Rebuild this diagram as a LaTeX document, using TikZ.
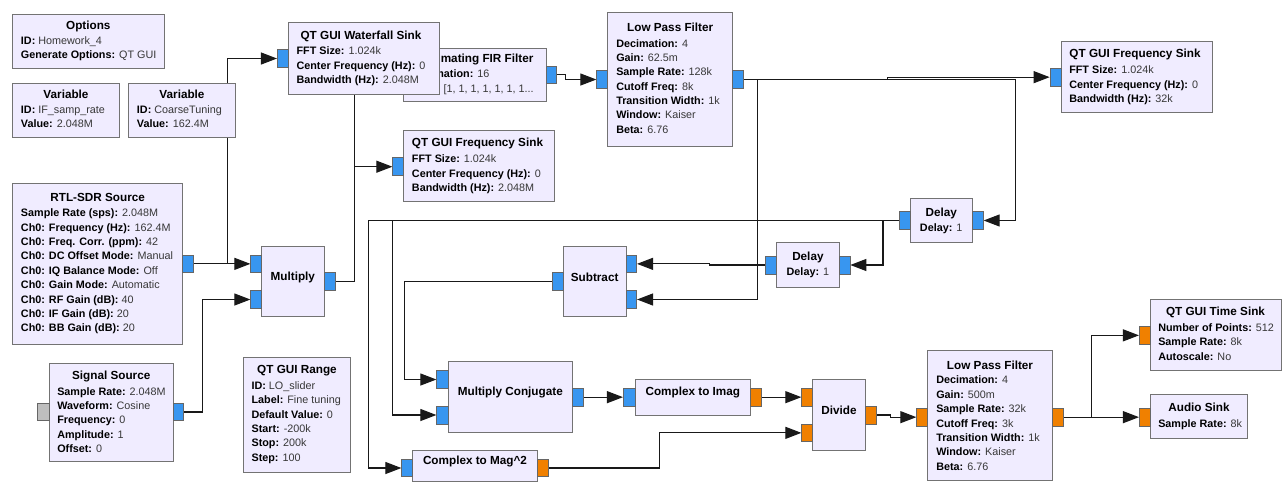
\documentclass[tikz,border=0pt]{standalone}
\usepackage{fontspec}
\setmainfont{Liberation Sans}
\usetikzlibrary{arrows.meta,fit}
\pgfdeclarelayer{bg}
\pgfsetlayers{bg,main}
\definecolor{blkfill}{RGB}{240,236,255}
\definecolor{blkline}{RGB}{115,115,115}
\definecolor{pblue}{RGB}{56,150,240}
\definecolor{porange}{RGB}{240,128,0}
\definecolor{pgrey}{RGB}{190,190,190}
\definecolor{valc}{RGB}{55,55,55}
\newcount\tlc
\newcommand\tfont{\fontsize{8.8}{10.5}\selectfont\bfseries}
\newcommand\blk[5]{\node[blk, fit={(#2,#3) (#4,#5)}] (#1) {};}
\newcommand\blkt[6]{\node[blk, font=\tfont, text height=6.3pt, text depth=0pt, fit={(#2,#3) (#4,#5)}] (#1) {#6};}
\newcommand\prt[6]{\node[port, fill=#6, fit={(#2,#3) (#4,#5)}] (#1) {};}
\newcommand\btitle[2]{\global\advance\tlc by 1 \node[ttl] (t\the\tlc) at (#1) {#2};}
\newcommand\bkv[3]{\global\advance\tlc by 1 \node[kv] (t\the\tlc) at (#1) {\textbf{#2:} \textcolor{valc}{#3}};}
\newcommand\bkvc[3]{\global\advance\tlc by 1 \node[kv, anchor=center] (t\the\tlc) at (#1) {\textbf{#2:} \textcolor{valc}{#3}};}
\tikzset{
  blk/.style={draw=blkline, fill=blkfill, line width=0.75pt, inner sep=0pt},
  port/.style={draw=black!60, line width=0.5pt, inner sep=0pt},
  ttl/.style={font=\tfont, anchor=center, inner sep=0pt, text height=6.3pt, text depth=0pt},
  kv/.style={font=\fontsize{8.1}{10}\selectfont, anchor=west, inner sep=0pt, text height=5.9pt, text depth=0pt},
  wire/.style={draw=black!90, line width=0.8pt, -{Triangle[length=12pt,width=9pt]}}
}
\begin{document}
\begin{tikzpicture}[x=0.75pt, y=-0.75pt]
\path[use as bounding box] (0,0) rectangle (1282,483);

% Options
\blk{opt}{12.7}{14.3}{164}{68.3}
\btitle{88.3,25}{Options}
\bkv{20.7,40.7}{ID}{Homework\_4}
\bkv{20.7,55}{Generate Options}{QT GUI}

% Variables
\blk{var1}{12.7}{83.3}{119.3}{137.3}
\btitle{66,94}{Variable}
\bkv{20.7,110}{ID}{IF\_samp\_rate}
\bkv{20.7,124}{Value}{2.048M}

\blk{var2}{128.7}{83.3}{235.3}{137.3}
\btitle{182,94}{Variable}
\bkv{136.7,110}{ID}{CoarseTuning}
\bkv{136.7,124}{Value}{162.4M}

% RTL-SDR Source
\blk{rtl}{12.7}{183.3}{182.7}{344}
\prt{rtl-o}{182.7}{255}{193}{272.7}{pblue}
\btitle{97.7,197.3}{RTL-SDR Source}
\bkv{20.7,212.7}{Sample Rate (sps)}{2.048M}
\bkv{20.7,227.1}{Ch0: Frequency (Hz)}{162.4M}
\bkv{20.7,241.5}{Ch0: Freq. Corr. (ppm)}{42}
\bkv{20.7,255.9}{Ch0: DC Offset Mode}{Manual}
\bkv{20.7,270.3}{Ch0: IQ Balance Mode}{Off}
\bkv{20.7,284.7}{Ch0: Gain Mode}{Automatic}
\bkv{20.7,299.1}{Ch0: RF Gain (dB)}{40}
\bkv{20.7,313.5}{Ch0: IF Gain (dB)}{20}
\bkv{20.7,327.9}{Ch0: BB Gain (dB)}{20}

% Signal Source
\blk{sig}{49}{363.3}{173.3}{461.7}
\prt{sig-i}{37.3}{403.5}{49}{420.5}{pgrey}
\prt{sig-o}{173.3}{403.5}{183.7}{420.5}{pblue}
\btitle{111.2,375}{Signal Source}
\bkv{57,391.5}{Sample Rate}{2.048M}
\bkv{57,405.7}{Waveform}{Cosine}
\bkv{57,419.9}{Frequency}{0}
\bkv{57,434.1}{Amplitude}{1}
\bkv{57,448.3}{Offset}{0}

% Decimating FIR Filter (behind waterfall)
\blk{fir}{403.3}{48.3}{546}{101.7}
\prt{fir-i}{392.3}{66}{403.3}{83.3}{pblue}
\prt{fir-o}{546}{66}{556.7}{83.3}{pblue}
\btitle{474.7,58.3}{Decimating FIR Filter}
\bkv{411.3,73.7}{Decimation}{16}
\bkv{411.3,89}{Taps}{[1, 1, 1, 1, 1, 1, 1...}

% Waterfall sink
\blk{wf}{288.3}{22.7}{439.3}{94.3}
\prt{wf-i}{277.3}{49.3}{288.3}{67.7}{pblue}
\btitle{361,35}{QT GUI Waterfall Sink}
\bkv{296.3,50.7}{FFT Size}{1.024k}
\bkv{296.3,65.3}{Center Frequency (Hz)}{0}
\bkv{296.3,80}{Bandwidth (Hz)}{2.048M}

% Frequency sink 1
\blk{fs1}{403.7}{130.7}{554.7}{201.7}
\prt{fs1-i}{392.7}{157.7}{403.7}{175.7}{pblue}
\btitle{477.5,142.7}{QT GUI Frequency Sink}
\bkv{411.7,158.7}{FFT Size}{1.024k}
\bkv{411.7,173.3}{Center Frequency (Hz)}{0}
\bkv{411.7,187.7}{Bandwidth (Hz)}{2.048M}

% Low pass filter 1
\blk{lpf1}{607.7}{12.7}{732.7}{146}
\prt{lpf1-i}{596.7}{70.7}{607.7}{88.3}{pblue}
\prt{lpf1-o}{732.7}{70.7}{743.3}{88.3}{pblue}
\btitle{670.2,27.3}{Low Pass Filter}
\bkv{616,43.3}{Decimation}{4}
\bkv{616,57.6}{Gain}{62.5m}
\bkv{616,71.9}{Sample Rate}{128k}
\bkv{616,86.2}{Cutoff Freq}{8k}
\bkv{616,100.5}{Transition Width}{1k}
\bkv{616,114.8}{Window}{Kaiser}
\bkv{616,129.1}{Beta}{6.76}

% Frequency sink 2
\blk{fs2}{1061}{41.7}{1212}{112.7}
\prt{fs2-i}{1050}{68.3}{1061}{86}{pblue}
\btitle{1135,53.3}{QT GUI Frequency Sink}
\bkv{1069,70}{FFT Size}{1.024k}
\bkv{1069,84.3}{Center Frequency (Hz)}{0}
\bkv{1069,98.6}{Bandwidth (Hz)}{32k}

% Multiply
\blkt{mul}{261.7}{246}{324}{316.7}{Multiply}
\prt{mul-i1}{250.7}{255}{261.7}{272.7}{pblue}
\prt{mul-i2}{250.7}{290.7}{261.7}{308.3}{pblue}
\prt{mul-o}{324}{272.7}{335}{290.7}{pblue}

% Subtract
\blkt{sub}{563.3}{246}{626}{316.7}{Subtract}
\prt{sub-o}{552.3}{272.7}{563.3}{290.7}{pblue}
\prt{sub-i1}{626}{255}{636.7}{272.7}{pblue}
\prt{sub-i2}{626}{290.7}{636.7}{308.3}{pblue}

% Delays
\blk{dl1}{910}{198.3}{972.3}{242.3}
\prt{dl1-o}{899}{211.7}{910}{229.3}{pblue}
\prt{dl1-i}{972.3}{211.7}{983.3}{229.3}{pblue}
\btitle{941.2,212.3}{Delay}
\bkvc{941.2,227.7}{Delay}{1}

\blk{dl2}{776.7}{242.7}{839}{287.3}
\prt{dl2-o}{765.7}{256}{776.7}{274}{pblue}
\prt{dl2-i}{839}{256}{850}{274}{pblue}
\btitle{807.9,256.7}{Delay}
\bkvc{807.9,271.7}{Delay}{1}

% QT GUI Range
\blk{rng}{243.3}{357.3}{350.7}{472.7}
\btitle{297,369.3}{QT GUI Range}
\bkv{251.3,385.3}{ID}{LO\_slider}
\bkv{251.3,399.7}{Label}{Fine tuning}
\bkv{251.3,414.1}{Default Value}{0}
\bkv{251.3,428.5}{Start}{-200k}
\bkv{251.3,442.9}{Stop}{200k}
\bkv{251.3,457.3}{Step}{100}

% Multiply Conjugate
\blkt{mc}{448.3}{361.7}{572.3}{432.7}{Multiply Conjugate}
\prt{mc-i1}{436.7}{370.7}{448.3}{388.3}{pblue}
\prt{mc-i2}{436.7}{406}{448.3}{424}{pblue}
\prt{mc-o}{572.3}{388.3}{583.3}{406}{pblue}

% Complex to Mag^2
\blkt{mag}{412.7}{450.7}{537.3}{481}{Complex to Mag\textasciicircum 2}
\prt{mag-i}{401.7}{459.3}{412.7}{476.7}{pblue}
\prt{mag-o}{537.3}{459.3}{548.3}{476.7}{porange}

% Complex to Imag
\blkt{c2i}{635}{379.3}{750.7}{415}{Complex to Imag}
\prt{c2i-i}{623.3}{388.3}{635}{406}{pblue}
\prt{c2i-o}{750.7}{388.3}{761.7}{406}{porange}

% Divide
\blkt{div}{812.3}{379.3}{865.7}{450.7}{Divide}
\prt{div-i1}{801.7}{388.3}{812.3}{406}{porange}
\prt{div-i2}{801.7}{424}{812.3}{441.7}{porange}
\prt{div-o}{865.7}{406}{876.7}{424}{porange}

% Low pass filter 2
\blk{lpf2}{927.7}{350.7}{1052.3}{480}
\prt{lpf2-i}{916.7}{408.3}{927.7}{426}{porange}
\prt{lpf2-o}{1052.3}{408.3}{1063.3}{426}{porange}
\btitle{990,365}{Low Pass Filter}
\bkv{936,380}{Decimation}{4}
\bkv{936,394.4}{Gain}{500m}
\bkv{936,408.8}{Sample Rate}{32k}
\bkv{936,423.2}{Cutoff Freq}{3k}
\bkv{936,437.6}{Transition Width}{1k}
\bkv{936,452}{Window}{Kaiser}
\bkv{936,466.4}{Beta}{6.76}

% Time sink
\blk{ts}{1150}{299.3}{1281.3}{370}
\prt{ts-i}{1139.3}{326.7}{1150}{344}{porange}
\btitle{1215.5,311.7}{QT GUI Time Sink}
\bkv{1158,327.3}{Number of Points}{512}
\bkv{1158,342}{Sample Rate}{8k}
\bkv{1158,356.7}{Autoscale}{No}

% Audio sink
\blk{au}{1150}{394}{1247.7}{438.3}
\prt{au-i}{1139.3}{408.3}{1150}{426}{porange}
\btitle{1199,407.3}{Audio Sink}
\bkv{1158,423.3}{Sample Rate}{8k}

% Connections
\begin{pgfonlayer}{bg}
\fill[white] (0,0) rectangle (1282,483);
\draw[wire] (rtl-o.east) -- ++(33.7,0) |- (wf-i.west);
\draw[wire] (rtl-o.east) -- (mul-i1.west);
\draw[wire] (sig-o.east) -- ++(18,0) |- (mul-i2.west);
\draw[wire] (mul-o.east) -- ++(19.3,0) |- (fir-i.west);
\draw[wire] (mul-o.east) -- ++(19.3,0) |- (fs1-i.west);
\draw[wire] (fir-o.east) -- ++(8.3,0) |- (lpf1-i.west);
\draw[wire] (lpf1-o.east) -- ++(143.4,0) |- (fs2-i.west);
\draw[wire] (lpf1-o.east) -- ++(272,0) |- (dl1-i.east);
\draw[wire] (lpf1-o.east) -- ++(13.7,0) |- (sub-i2.east);
\draw[wire] (dl1-o.west) -- ++(-15.7,0) |- (dl2-i.east);
\draw[wire] (dl1-o.west) -- ++(-506.3,0) |- (mc-i2.west);
\draw[wire] (dl1-o.west) -- ++(-530,0) |- (mag-i.west);
\draw[wire] (dl2-o.west) -- ++(-55.7,0) |- (sub-i1.east);
\draw[wire] (sub-o.west) -- ++(-147.3,0) |- (mc-i1.west);
\draw[wire] (mc-o.east) -- (c2i-i.west);
\draw[wire] (c2i-o.east) -- (div-i1.west);
\draw[wire] (mag-o.east) -- ++(111,0) |- (div-i2.west);
\draw[wire] (div-o.east) -- ++(13.3,0) |- (lpf2-i.west);
\draw[wire] (lpf2-o.east) -- ++(27.4,0) |- (ts-i.west);
\draw[wire] (lpf2-o.east) -- (au-i.west);
\end{pgfonlayer}
\end{tikzpicture}
\end{document}
